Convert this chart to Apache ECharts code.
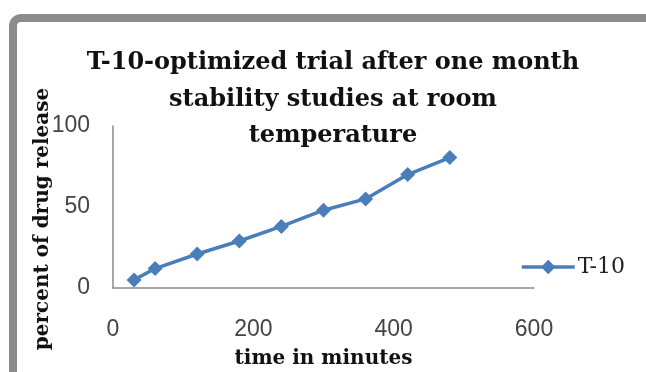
<!DOCTYPE html>
<html>
<head>
<meta charset="utf-8">
<script src="https://cdn.jsdelivr.net/npm/echarts@6/dist/echarts.min.js"></script>
<style>html,body{margin:0;padding:0;background:#fff;}#c{width:646px;height:372px;}</style>
</head>
<body>
<div id="c"></div>
<script>
const timeMinutes = [30, 60, 120, 180, 240, 300, 360, 420, 480];
const releaseT10 = [5, 12, 21, 29, 38, 48, 55, 70, 80.5];
const seriesName = 'T-10';
const titleText = 'T-10-optimized trial after one month\nstability studies at room\ntemperature';
const xTitle = 'time in minutes';
const yTitle = 'percent of drug release';

const chart = echarts.init(document.getElementById('c'), null, {renderer: 'canvas'});
const serif = '"DejaVu Serif", "Liberation Serif", serif';
const sans = '"Liberation Sans", Arial, sans-serif';
chart.setOption({
  backgroundColor: '#fff',
  animation: false,
  title: {
    text: titleText,
    left: 328, top: 40, textAlign: 'center',
    textStyle: {fontFamily: serif, fontWeight: 'bold', fontSize: 24, lineHeight: 36.5, color: '#111', align: 'center'}
  },
  legend: {
    data: [seriesName], left: 520, top: 256, padding: 0, itemWidth: 53, itemHeight: 18, itemGap: 0,
    lineStyle: {width: 3.5},
    textStyle: {fontFamily: serif, fontSize: 22, color: '#222', padding: [0,0,0,-2]}
  },
  grid: {left: 113, right: 112, top: 126, bottom: 84, containLabel: false},
  xAxis: {
    type: 'value', min: 0, max: 600, interval: 200,
    name: xTitle, nameLocation: 'middle', nameGap: 61,
    nameTextStyle: {fontFamily: serif, fontWeight: 'bold', fontSize: 20, color: '#111'},
    axisLine: {show: true, onZero: false, lineStyle: {color: '#8a8a8a', width: 1.5}},
    axisTick: {show: false}, splitLine: {show: false},
    axisLabel: {fontFamily: sans, fontSize: 23, color: '#444', margin: 30}
  },
  yAxis: {
    type: 'value', min: 0, max: 100, interval: 50,
    axisLine: {show: true, lineStyle: {color: '#8a8a8a', width: 1.5}},
    axisTick: {show: false}, splitLine: {show: false},
    axisLabel: {fontFamily: sans, fontSize: 23, color: '#444', margin: 23}
  },
  graphic: [
    {type: 'rect', shape: {x: 13, y: 18, width: 800, height: 600, r: 8}, style: {fill: 'none', stroke: '#8c8c8c', lineWidth: 8}, z: 100},
    {type: 'text', x: 43, y: 219, rotation: Math.PI / 2, style: {text: yTitle, fontFamily: serif, fontWeight: 'bold', fontSize: 20, fill: '#111', align: 'center', verticalAlign: 'middle'}}
  ],
  series: [{
    name: seriesName, type: 'line',
    data: timeMinutes.map((t, i) => [t, releaseT10[i]]),
    symbol: 'diamond', symbolSize: 15,
    lineStyle: {color: '#4a7ebb', width: 3.5},
    itemStyle: {color: '#4a7ebb'}
  }]
});
</script>
</body>
</html>
